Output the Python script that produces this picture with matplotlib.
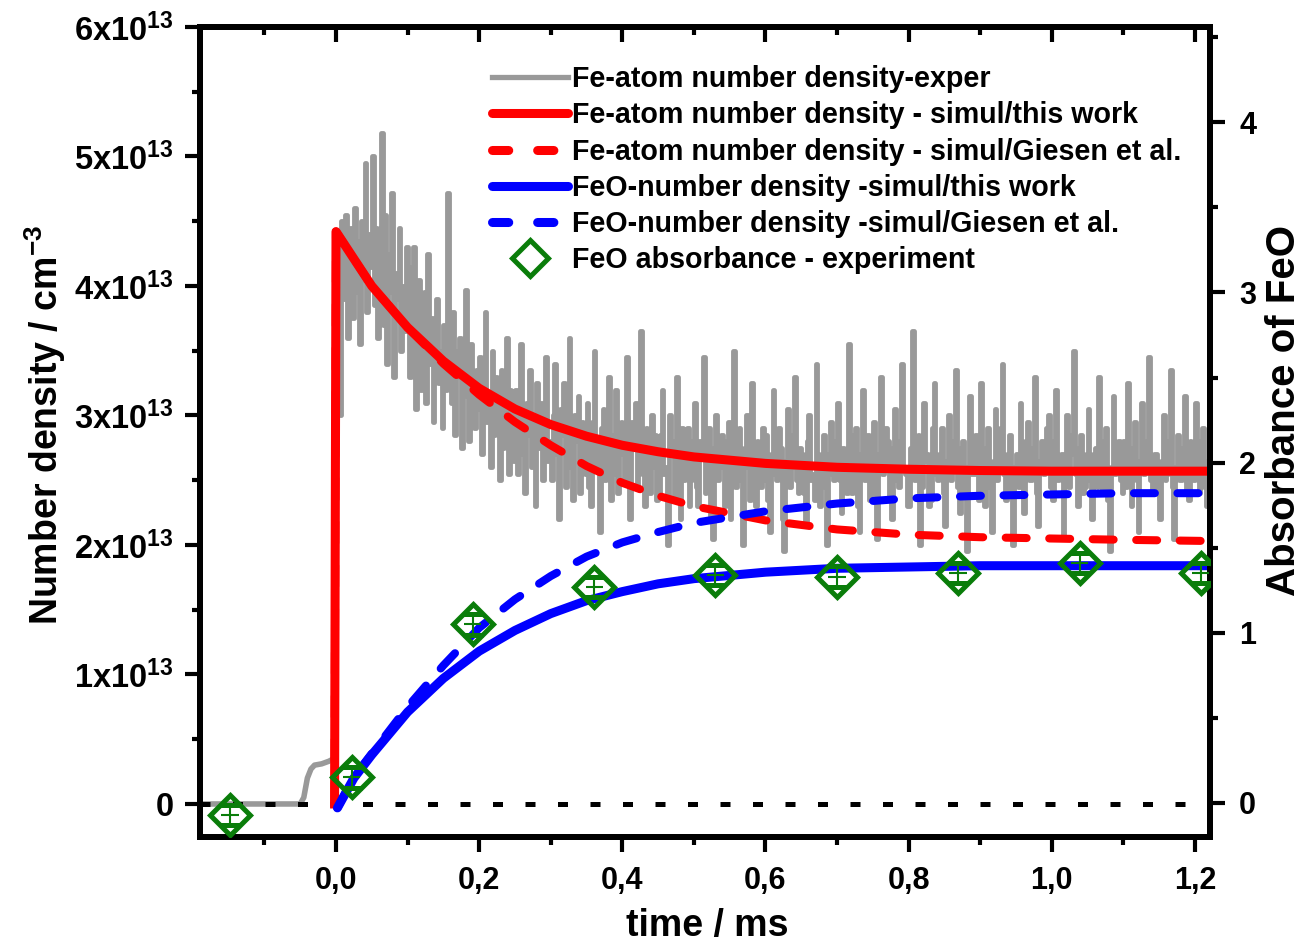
import numpy as np
import matplotlib
matplotlib.use("Agg")
import matplotlib.pyplot as plt
from matplotlib.ticker import MultipleLocator, FixedLocator
from matplotlib.lines import Line2D

plt.rcParams['font.family'] = ['Liberation Sans', 'DejaVu Sans']
plt.rcParams['font.weight'] = 'bold'
plt.rcParams['mathtext.fontset'] = 'custom'
plt.rcParams['mathtext.rm'] = 'Liberation Sans:bold'
plt.rcParams['mathtext.bf'] = 'Liberation Sans:bold'
plt.rcParams['mathtext.it'] = 'Liberation Sans:bold'

# ---------------- data (number densities in 1e13 cm^-3) ----------------
# experimental Fe trace before the photolysis pulse
t_pre = [-0.19, -0.05, -0.045, -0.04, -0.035, -0.03, -0.02, -0.01, -0.003, 0.0]
fe_pre = [0.0, 0.0, 0.05, 0.2, 0.27, 0.3, 0.31, 0.33, 0.35, 0.35]

# experimental Fe trace after t = 0, sampled every 2.5 us
dt_exp = 0.0025
fe_exp = [
    3.5, 4.3, 3.0, 4.5, 3.9, 4.55, 3.6, 4.2, 4.45, 3.75, 4.6, 3.95, 4.35, 3.55, 4.5, 4.05, 4.95, 3.8, 4.4, 4.15,
    5.0, 3.85, 4.45, 3.6, 4.3, 5.18, 3.7, 4.55, 3.4, 4.25, 3.95, 4.72, 3.3, 4.1, 3.9, 4.45, 3.5, 4.0, 3.65, 4.3,
    4.15, 3.3, 3.85, 4.3, 3.05, 3.7, 4.05, 3.2, 3.55, 3.95, 3.1, 4.25, 3.4, 3.75, 2.95, 3.6, 3.9, 3.25, 3.5, 2.9,
    3.7, 3.2, 4.72, 3.45, 3.1, 3.8, 2.85, 3.5, 3.3, 3.6, 2.75, 3.4, 3.97, 3.15, 2.8, 3.55, 3.25, 2.9, 3.35, 3.05,
    3.45, 2.7, 3.25, 3.8, 2.95, 3.1, 2.6, 3.5, 2.85, 3.3, 3.15, 2.5, 3.35, 2.75, 3.0, 3.6, 2.55, 3.2, 2.9, 2.65,
    3.2, 2.55, 3.05, 3.55, 2.7, 2.4, 3.1, 2.85, 3.35, 2.6, 2.95, 2.3, 3.25, 2.75, 3.1, 2.5, 2.9, 3.45, 2.65, 2.8,
    2.5, 3.0, 3.4, 2.7, 2.2, 3.05, 2.85, 3.25, 2.45, 2.9, 3.6, 2.6, 2.35, 3.0, 2.8, 3.15, 2.4, 2.95, 2.65, 2.55,
    3.1, 2.45, 2.3, 2.95, 3.5, 2.6, 2.8, 2.1, 2.9, 3.05, 2.5, 2.75, 3.3, 2.35, 2.85, 2.55, 3.2, 2.4, 2.7, 2.95,
    2.9, 2.5, 3.45, 2.75, 2.2, 2.95, 2.8, 3.1, 2.45, 2.65, 3.65, 2.55, 2.3, 2.9, 2.7, 2.4, 3.0, 2.6, 2.85, 2.35,
    2.4, 2.85, 3.2, 2.55, 2.6, 2.0, 3.0, 2.7, 2.8, 2.35, 3.3, 2.6, 2.2, 2.9, 2.5, 2.75, 2.9, 2.3, 2.5, 2.8,
    3.1, 2.45, 2.3, 2.8, 2.7, 3.45, 2.4, 2.65, 2.9, 2.2, 2.05, 2.75, 3.0, 2.5, 2.6, 2.85, 2.8, 2.3, 2.55, 2.95,
    2.2, 2.7, 3.5, 2.45, 2.5, 2.9, 2.75, 2.0, 2.6, 3.0, 2.7, 2.35, 3.25, 2.55, 2.3, 2.8, 2.6, 2.45, 2.9, 2.5,
    2.85, 2.35, 2.1, 2.7, 3.2, 2.55, 2.5, 2.9, 2.75, 2.2, 1.95, 2.65, 3.05, 2.45, 2.6, 2.85, 3.3, 2.5, 2.4, 2.75,
    2.7, 2.4, 2.15, 2.8, 3.0, 2.5, 2.55, 2.35, 3.4, 2.7, 2.3, 2.6, 2.85, 2.45, 2.0, 2.7, 2.95, 2.55, 2.5, 2.8,
    3.1, 2.5, 2.25, 2.75, 2.7, 2.4, 3.55, 2.65, 2.4, 2.85, 2.9, 2.3, 2.1, 2.7, 3.2, 2.5, 2.6, 2.85, 2.35, 2.55,
    2.95, 2.4, 2.05, 2.7, 3.3, 2.55, 2.6, 2.9, 2.8, 2.35, 2.2, 2.75, 3.05, 2.5, 2.45, 2.8, 3.4, 2.6, 2.55, 2.3,
    2.3, 2.75, 3.65, 2.5, 2.6, 2.85, 2.0, 2.45, 3.1, 2.65, 2.7, 2.3, 2.35, 2.9, 3.25, 2.55, 2.5, 2.7, 2.9, 2.4,
    2.15, 2.65, 3.0, 2.5, 2.6, 2.8, 3.35, 2.45, 2.25, 2.75, 2.8, 2.4, 1.95, 2.6, 3.15, 2.55, 2.55, 2.85, 2.75, 2.35,
    3.25, 2.6, 2.3, 2.75, 2.9, 2.45, 2.1, 2.65, 3.05, 2.5, 2.6, 2.9, 3.4, 2.55, 2.35, 2.7, 2.85, 2.4, 2.0, 2.6,
    2.7, 2.45, 3.1, 2.6, 2.25, 2.8, 2.95, 2.5, 2.5, 2.75, 3.3, 2.4, 2.15, 2.65, 2.8, 2.55, 2.6, 2.9, 3.0, 2.45,
    2.35, 2.8, 3.2, 2.5, 2.55, 2.7, 2.05, 2.6, 3.0, 2.45, 2.7, 2.85, 3.5, 2.55, 2.3, 2.75, 2.85, 2.4, 2.45, 2.7,
    3.05, 2.5, 2.2, 2.7, 2.75, 2.45, 3.3, 2.6, 2.4, 2.8, 2.9, 2.35, 1.95, 2.6, 3.15, 2.55, 2.6, 2.8, 2.5, 2.4,
    2.8, 2.45, 3.25, 2.6, 2.3, 2.75, 2.95, 2.5, 2.1, 2.65, 3.1, 2.55, 2.6, 2.8, 3.45, 2.5, 2.4, 2.7, 2.7, 2.45,
    2.2, 2.65, 3.0, 2.5, 2.55, 2.8, 3.35, 2.45, 2.05, 2.6, 2.85, 2.5, 2.5, 2.75, 3.15, 2.4, 2.35, 2.8, 2.75, 2.5,
    3.1, 2.55, 2.4, 2.8, 2.9, 2.45, 2.3, 2.65, 2.65, 2.5,
]
t_exp = np.arange(len(fe_exp)) * dt_exp

# simulations
t_fe_sim = [-0.002, 0.0, 0.05, 0.1, 0.15, 0.2, 0.25, 0.3, 0.35, 0.4, 0.45,
            0.5, 0.6, 0.7, 0.8, 0.9, 1.0, 1.1, 1.23]
fe_this = [0.0, 4.42, 4.0, 3.68, 3.42, 3.21, 3.05, 2.93, 2.84, 2.77, 2.72,
           2.68, 2.63, 2.60, 2.585, 2.575, 2.57, 2.57, 2.57]
fe_giesen = [0.0, 4.42, 4.0, 3.68, 3.4, 3.16, 2.95, 2.77, 2.61, 2.48, 2.38,
             2.30, 2.19, 2.12, 2.08, 2.06, 2.05, 2.04, 2.03]

t_feo_sim = [0.002, 0.025, 0.05, 0.1, 0.15, 0.2, 0.25, 0.3, 0.35, 0.4, 0.45,
             0.5, 0.6, 0.7, 0.8, 0.9, 1.0, 1.1, 1.23]
feo_this = [-0.03, 0.2, 0.38, 0.71, 0.97, 1.18, 1.34, 1.47, 1.57, 1.64, 1.70,
            1.74, 1.79, 1.82, 1.83, 1.84, 1.84, 1.84, 1.84]
feo_giesen = [-0.03, 0.21, 0.39, 0.75, 1.07, 1.36, 1.58, 1.76, 1.91, 2.02, 2.10,
              2.17, 2.26, 2.32, 2.36, 2.38, 2.39, 2.40, 2.40]

# FeO absorbance (right axis)
t_abs = [-0.148, 0.022, 0.191, 0.361, 0.530, 0.700, 0.869, 1.039, 1.208]
feo_abs = [-0.07, 0.15, 1.05, 1.27, 1.34, 1.33, 1.35, 1.41, 1.35]
abs_err = [0.06] * len(t_abs)

N0 = 1e13
gray = '#999999'
green = '#0a7d0a'

fig = plt.figure(figsize=(13.04, 9.49), dpi=100)
ax = fig.add_axes([200 / 1304, 1 - 837 / 949, 1010 / 1304, 810 / 949])

ax.plot(t_pre, np.array(fe_pre) * N0, color=gray, lw=4, zorder=2)
ax.plot(t_exp, np.array(fe_exp) * N0, color=gray, lw=3.5, drawstyle='steps-post', zorder=2)
ax.axhline(0, color='black', lw=3.6, ls=(0, (2, 4.5)), zorder=3)

ax.plot(t_fe_sim, np.array(fe_this) * N0, color='#ff0000', lw=6.5, zorder=5,
        solid_joinstyle='round')
ax.plot(t_fe_sim, np.array(fe_giesen) * N0, color='#ff0000', lw=5.8, zorder=4,
        ls=(0, (2.6, 2.8)), dash_capstyle='round')
ax.plot(t_feo_sim, np.array(feo_this) * N0, color='#0000ff', lw=6.5, zorder=5,
        solid_capstyle='round')
ax.plot(t_feo_sim, np.array(feo_giesen) * N0, color='#0000ff', lw=5.8, zorder=4,
        ls=(0, (2.6, 2.8)), dash_capstyle='round')

ax.set_xlim(-0.19, 1.221)
ax.set_ylim(-0.255 * N0, 6.0 * N0)

ax.xaxis.set_major_locator(FixedLocator([0.0, 0.2, 0.4, 0.6, 0.8, 1.0, 1.2]))
ax.xaxis.set_minor_locator(FixedLocator([-0.1, 0.1, 0.3, 0.5, 0.7, 0.9, 1.1]))
ax.set_xticklabels(['0,0', '0,2', '0,4', '0,6', '0,8', '1,0', '1,2'])
ax.yaxis.set_major_locator(FixedLocator([i * N0 for i in range(7)]))
ax.yaxis.set_minor_locator(FixedLocator([(i + 0.5) * N0 for i in range(6)]))
ax.set_yticklabels(['0'] + [r'$\mathbf{%dx10^{13}}$' % i for i in range(1, 7)])

for sp in ax.spines.values():
    sp.set_linewidth(4.3)
ax.tick_params(which='major', direction='out', length=11, width=3, labelsize=22, pad=8)
ax.tick_params(axis='y', labelsize=23.5)
ax.tick_params(which='minor', direction='out', length=6, width=3)
ax.tick_params(axis='x', pad=10)
ax.tick_params(right=False, top=False, which='both')

# top axis with inward ticks
top = ax.secondary_xaxis('top')
top.xaxis.set_major_locator(FixedLocator([0.0, 0.2, 0.4, 0.6, 0.8, 1.0, 1.2]))
top.xaxis.set_minor_locator(FixedLocator([-0.1, 0.1, 0.3, 0.5, 0.7, 0.9, 1.1]))
top.tick_params(which='major', direction='in', length=11, width=3, labeltop=False)
top.tick_params(which='minor', direction='in', length=6, width=3)
top.spines['top'].set_linewidth(4.3)

# right axis: absorbance
ax2 = ax.twinx()
ax2.set_ylim(-0.2, 4.56)
ax2.errorbar(t_abs, feo_abs, yerr=abs_err, fmt='D', ms=20, mfc='none', mec=green,
             mew=3.6, ecolor=green, elinewidth=1.5, capsize=7, capthick=1.5, zorder=6)
ax2.errorbar(t_abs, feo_abs, xerr=[0.012] * len(t_abs), fmt='none', ecolor=green,
             elinewidth=1.5, zorder=6)
ax2.yaxis.set_major_locator(MultipleLocator(1))
ax2.yaxis.set_minor_locator(MultipleLocator(0.5))
for sp in ax2.spines.values():
    sp.set_linewidth(4.3)
ax2.tick_params(which='major', direction='out', length=11, width=3, labelsize=22, pad=10)
ax2.tick_params(which='minor', direction='out', length=6, width=3)

fig.text(45 / 1304, 1 - 425 / 949, r'Number density / cm$^{\mathbf{-3}}$', rotation=90,
         ha='center', va='center', fontsize=27, fontweight='bold')
fig.text(1284 / 1304, 1 - 410 / 949, 'Absorbance of FeO', rotation=90,
         ha='center', va='center', fontsize=29, fontweight='bold')
fig.text(707 / 1304, 1 - 926 / 949, 'time / ms', ha='center', va='center',
         fontsize=27, fontweight='bold')

handles = [
    Line2D([], [], color=gray, lw=3.8),
    Line2D([], [], color='#ff0000', lw=6.5, solid_capstyle='round'),
    Line2D([], [], color='#ff0000', lw=6.5, ls=(0, (1.8, 3.2)), dash_capstyle='round'),
    Line2D([], [], color='#0000ff', lw=6.5, solid_capstyle='round'),
    Line2D([], [], color='#0000ff', lw=6.5, ls=(0, (1.8, 3.2)), dash_capstyle='round'),
    Line2D([], [], color=green, marker='D', ms=18, mfc='none', mew=3.6, ls='none'),
]
labels = [
    'Fe-atom number density-exper',
    'Fe-atom number density - simul/this work',
    'Fe-atom number density - simul/Giesen et al.',
    'FeO-number density -simul/this work',
    'FeO-number density -simul/Giesen et al.',
    'FeO absorbance - experiment',
]
ax2.legend(handles, labels, loc='upper left', bbox_to_anchor=(492 / 1304, 1 - 65 / 949),
           bbox_transform=fig.transFigure, frameon=False,
           handlelength=2.65, handletextpad=0.15, labelspacing=0.29,
           borderpad=0, borderaxespad=0, prop={'weight': 'bold', 'size': 20.6})

fig.savefig('out.png', dpi=100)
